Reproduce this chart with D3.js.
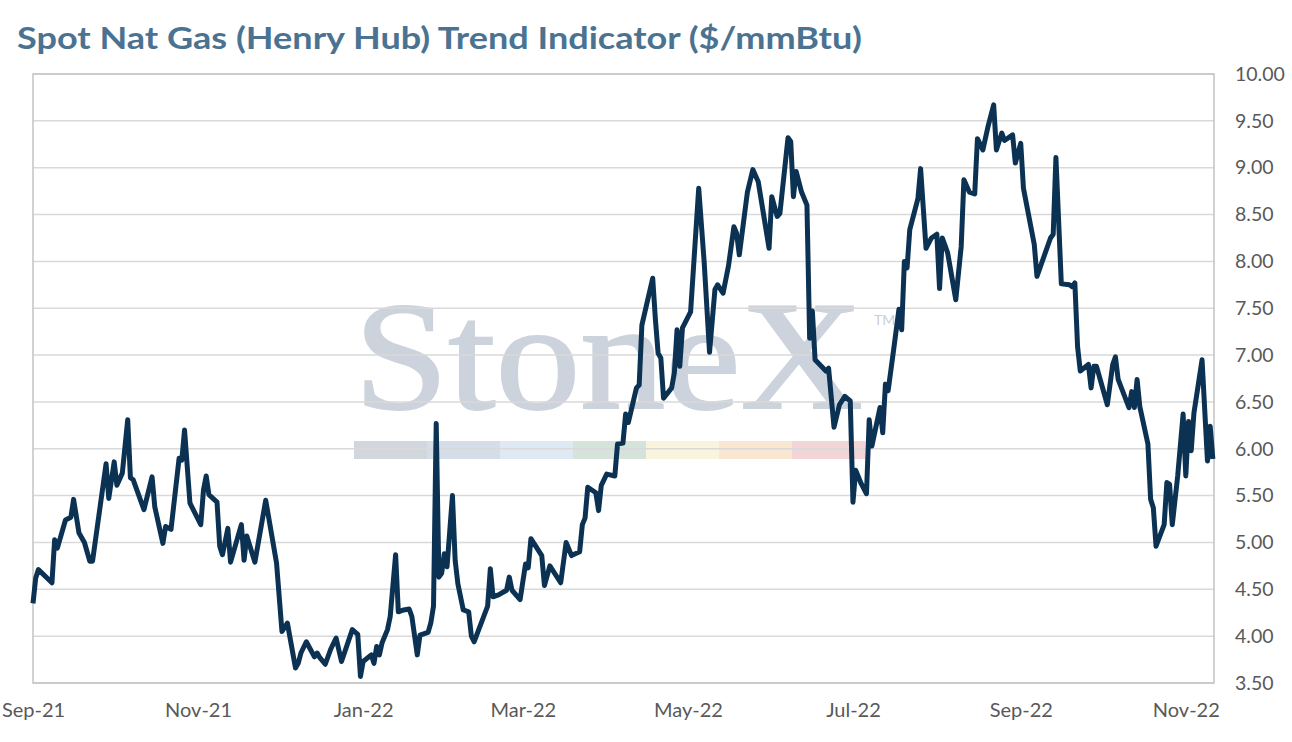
<!DOCTYPE html>
<html>
<head>
<meta charset="utf-8">
<script src="https://cdn.jsdelivr.net/npm/d3@7"></script>
<style>
  html, body { margin: 0; padding: 0; background: #ffffff; }
  svg { display: block; }
</style>
</head>
<body>
<svg id="chart" width="1292" height="742"></svg>
<script>
const dates = [
  '2021-09-01','2021-09-02','2021-09-03','2021-09-08','2021-09-09','2021-09-10','2021-09-13','2021-09-15','2021-09-16','2021-09-18',
  '2021-09-20','2021-09-22','2021-09-23','2021-09-28','2021-09-29','2021-10-01','2021-10-02','2021-10-04','2021-10-06','2021-10-07',
  '2021-10-08','2021-10-12','2021-10-15','2021-10-16','2021-10-19','2021-10-20','2021-10-22','2021-10-25','2021-10-26','2021-10-27',
  '2021-10-29','2021-11-02','2021-11-03','2021-11-04','2021-11-05','2021-11-08','2021-11-09','2021-11-10','2021-11-12','2021-11-13',
  '2021-11-17','2021-11-18','2021-11-19','2021-11-22','2021-11-26','2021-11-30','2021-12-02','2021-12-04','2021-12-07','2021-12-08',
  '2021-12-09','2021-12-11','2021-12-14','2021-12-15','2021-12-16','2021-12-18','2021-12-20','2021-12-22','2021-12-24','2021-12-28',
  '2021-12-30','2021-12-31','2022-01-01','2022-01-04','2022-01-05','2022-01-06','2022-01-07','2022-01-08','2022-01-10','2022-01-11',
  '2022-01-13','2022-01-14','2022-01-16','2022-01-18','2022-01-19','2022-01-21','2022-01-22','2022-01-25','2022-01-26','2022-01-27',
  '2022-01-28','2022-01-29','2022-01-30','2022-01-31','2022-02-01','2022-02-03','2022-02-04','2022-02-05','2022-02-07','2022-02-09',
  '2022-02-10','2022-02-11','2022-02-16','2022-02-17','2022-02-18','2022-02-20','2022-02-23','2022-02-24','2022-02-25','2022-02-28',
  '2022-03-02','2022-03-03','2022-03-04','2022-03-08','2022-03-09','2022-03-11','2022-03-15','2022-03-17','2022-03-19','2022-03-22',
  '2022-03-23','2022-03-24','2022-03-25','2022-03-28','2022-03-29','2022-03-30','2022-04-01','2022-04-04','2022-04-05','2022-04-07',
  '2022-04-08','2022-04-09','2022-04-12','2022-04-13','2022-04-14','2022-04-18','2022-04-19','2022-04-20','2022-04-21','2022-04-22',
  '2022-04-25','2022-04-26','2022-04-27','2022-04-28','2022-04-29','2022-05-02','2022-05-05','2022-05-07','2022-05-09','2022-05-11',
  '2022-05-12','2022-05-14','2022-05-16','2022-05-18','2022-05-19','2022-05-20','2022-05-23','2022-05-25','2022-05-27','2022-05-31',
  '2022-06-01','2022-06-03','2022-06-04','2022-06-07','2022-06-08','2022-06-09','2022-06-10','2022-06-12','2022-06-14','2022-06-15',
  '2022-06-16','2022-06-17','2022-06-21','2022-06-22','2022-06-24','2022-06-26','2022-06-28','2022-06-30','2022-07-01','2022-07-02',
  '2022-07-04','2022-07-06','2022-07-07','2022-07-08','2022-07-11','2022-07-12','2022-07-13','2022-07-14','2022-07-16','2022-07-18',
  '2022-07-19','2022-07-20','2022-07-21','2022-07-22','2022-07-25','2022-07-26','2022-07-28','2022-07-30','2022-08-01','2022-08-02',
  '2022-08-03','2022-08-05','2022-08-08','2022-08-10','2022-08-11','2022-08-13','2022-08-15','2022-08-16','2022-08-18','2022-08-20',
  '2022-08-22','2022-08-23','2022-08-25','2022-08-26','2022-08-29','2022-08-30','2022-09-01','2022-09-02','2022-09-06','2022-09-07',
  '2022-09-12','2022-09-13','2022-09-14','2022-09-16','2022-09-19','2022-09-20','2022-09-21','2022-09-22','2022-09-23','2022-09-26',
  '2022-09-27','2022-09-28','2022-09-29','2022-10-03','2022-10-05','2022-10-06','2022-10-07','2022-10-11','2022-10-12','2022-10-13',
  '2022-10-14','2022-10-15','2022-10-18','2022-10-19','2022-10-20','2022-10-21','2022-10-24','2022-10-25','2022-10-26','2022-10-27',
  '2022-10-29','2022-10-31','2022-11-01','2022-11-02','2022-11-03','2022-11-04','2022-11-07','2022-11-09','2022-11-10','2022-11-11'
];

const prices = [
  4.35, 4.62, 4.71, 4.57, 5.03, 4.94, 5.24, 5.27, 5.46, 5.10,
  5.00, 4.80, 4.80, 5.84, 5.47, 5.86, 5.61, 5.74, 6.31, 5.69,
  5.67, 5.35, 5.70, 5.38, 4.99, 5.17, 5.14, 5.90, 5.88, 6.20,
  5.42, 5.19, 5.56, 5.71, 5.51, 5.43, 4.96, 4.87, 5.15, 4.79,
  5.19, 4.81, 5.07, 4.79, 5.45, 4.78, 4.05, 4.14, 3.66, 3.71,
  3.82, 3.94, 3.78, 3.82, 3.77, 3.70, 3.86, 3.98, 3.73, 4.07,
  4.02, 3.57, 3.73, 3.80, 3.71, 3.89, 3.80, 3.93, 4.07, 4.21,
  4.87, 4.26, 4.28, 4.29, 4.21, 3.80, 4.01, 4.04, 4.14, 4.32,
  6.27, 4.63, 4.67, 4.88, 4.74, 5.50, 4.81, 4.56, 4.28, 4.26,
  4.00, 3.94, 4.32, 4.72, 4.42, 4.44, 4.49, 4.63, 4.49, 4.39,
  4.77, 4.73, 5.04, 4.86, 4.54, 4.75, 4.57, 5.00, 4.86, 4.90,
  5.19, 5.26, 5.59, 5.53, 5.34, 5.61, 5.73, 5.71, 6.05, 6.06,
  6.37, 6.28, 6.65, 6.68, 7.32, 7.82, 7.38, 7.02, 6.97, 6.54,
  6.65, 6.81, 7.27, 6.88, 7.29, 7.46, 8.78, 8.00, 7.03, 7.70,
  7.75, 7.66, 7.95, 8.37, 8.30, 8.07, 8.74, 8.98, 8.85, 8.14,
  8.69, 8.48, 8.51, 9.32, 9.28, 8.69, 8.96, 8.74, 8.60, 7.18,
  7.47, 6.95, 6.83, 6.86, 6.23, 6.47, 6.56, 6.51, 5.43, 5.77,
  5.63, 5.52, 6.31, 6.03, 6.44, 6.17, 6.69, 6.62, 7.05, 7.49,
  7.27, 8.00, 7.93, 8.34, 8.67, 8.99, 8.14, 8.25, 8.29, 7.71,
  8.25, 8.09, 7.59, 8.16, 8.87, 8.74, 8.72, 9.31, 9.19, 9.45,
  9.67, 9.19, 9.37, 9.29, 9.35, 9.05, 9.26, 8.78, 8.18, 7.84,
  8.25, 8.29, 9.11, 7.76, 7.75, 7.73, 7.77, 7.09, 6.83, 6.90,
  6.65, 6.88, 6.88, 6.47, 6.90, 6.98, 6.74, 6.44, 6.61, 6.44,
  6.74, 6.45, 6.05, 5.46, 5.37, 4.96, 5.19, 5.64, 5.62, 5.19,
  5.71, 6.37, 5.71, 6.29, 5.98, 6.38, 6.95, 5.87, 6.24, 5.89
];

const xTickDates = ['2021-09-01','2021-11-01','2022-01-01','2022-03-01','2022-05-01','2022-07-01','2022-09-01','2022-11-01'];
const yTicks = [3.5, 4.0, 4.5, 5.0, 5.5, 6.0, 6.5, 7.0, 7.5, 8.0, 8.5, 9.0, 9.5, 10.0];
const bandColors = ['#d2d7de', '#d4dde8', '#dee9f3', '#d5e3da', '#f8f4de', '#f9e7d1', '#f3d4d7'];

const parseDate = d3.timeParse('%Y-%m-%d');
const series = dates.map((d, i) => ({ date: parseDate(d), value: prices[i] }));

const svg = d3.select('#chart');
const margin = { top: 74, right: 78, bottom: 59, left: 33 };
const width = 1292 - margin.left - margin.right;
const height = 742 - margin.top - margin.bottom;

const x = d3.scaleTime()
    .domain([parseDate('2021-09-01'), new Date(2022, 10, 11, 10)])
    .range([0, width]);

const y = d3.scaleLinear()
    .domain([3.5, 10])
    .range([height, 0]);

// title
svg.append('text')
    .attr('x', 17)
    .attr('y', 49)
    .attr('font-family', 'Lato, sans-serif')
    .attr('font-weight', 700)
    .attr('font-size', 30)
    .attr('textLength', 845)
    .attr('lengthAdjust', 'spacingAndGlyphs')
    .attr('fill', '#4b7391')
    .text('Spot Nat Gas (Henry Hub) Trend Indicator ($/mmBtu)');

const g = svg.append('g').attr('transform', `translate(${margin.left},${margin.top})`);

// watermark behind everything
const wm = g.append('g').attr('class', 'watermark');
wm.append('text')
    .attr('x', 321)
    .attr('y', 334)
    .attr('font-family', '"Liberation Serif", "DejaVu Serif", serif')
    .attr('font-size', 154)
    .attr('textLength', 509)
    .attr('lengthAdjust', 'spacingAndGlyphs')
    .attr('fill', '#ccd3dc')
    .attr('stroke', '#ccd3dc')
    .attr('stroke-width', 2)
    .text('StoneX');
wm.append('text')
    .attr('x', 841)
    .attr('y', 251)
    .attr('font-family', 'Lato, sans-serif')
    .attr('font-size', 14)
    .attr('fill', '#c9cfd7')
    .text('TM');
const bandX = d3.scaleBand().domain(d3.range(bandColors.length)).range([321, 832]);
wm.selectAll('rect.band')
    .data(bandColors)
    .join('rect')
    .attr('class', 'band')
    .attr('x', (d, i) => bandX(i))
    .attr('y', 367)
    .attr('width', bandX.bandwidth() + 0.5)
    .attr('height', 18)
    .attr('fill', d => d);

// gridlines
g.append('g')
    .selectAll('line')
    .data(yTicks)
    .join('line')
    .attr('x1', 0)
    .attr('x2', width)
    .attr('y1', d => y(d))
    .attr('y2', d => y(d))
    .attr('stroke', '#d9d9d9')
    .attr('stroke-width', 1.5);

// plot border
g.append('rect')
    .attr('x', 0)
    .attr('y', 0)
    .attr('width', width)
    .attr('height', height)
    .attr('fill', 'none')
    .attr('stroke', '#c3c3c3')
    .attr('stroke-width', 1.5);

// y axis on the right
const yAxis = g.append('g')
    .attr('transform', `translate(${width},0)`)
    .call(d3.axisRight(y).tickValues(yTicks).tickFormat(d3.format('.2f')).tickSize(0).tickPadding(21));
yAxis.select('.domain').remove();
yAxis.selectAll('text')
    .attr('font-family', 'Lato, sans-serif')
    .attr('font-size', 19.5)
    .attr('fill', '#595959');

// x axis
const xAxis = g.append('g')
    .attr('transform', `translate(0,${height})`)
    .call(d3.axisBottom(x)
        .tickValues(xTickDates.map(parseDate))
        .tickFormat(d3.timeFormat('%b-%y'))
        .tickSize(0)
        .tickPadding(20));
xAxis.select('.domain').remove();
xAxis.selectAll('text')
    .attr('font-family', 'Lato, sans-serif')
    .attr('font-size', 20)
    .attr('fill', '#595959');

// price line
const line = d3.line()
    .x(d => x(d.date))
    .y(d => y(d.value));

g.append('path')
    .datum(series)
    .attr('fill', 'none')
    .attr('stroke', '#0c3253')
    .attr('stroke-width', 5)
    .attr('stroke-linejoin', 'round')
    .attr('d', line);
</script>
</body>
</html>
